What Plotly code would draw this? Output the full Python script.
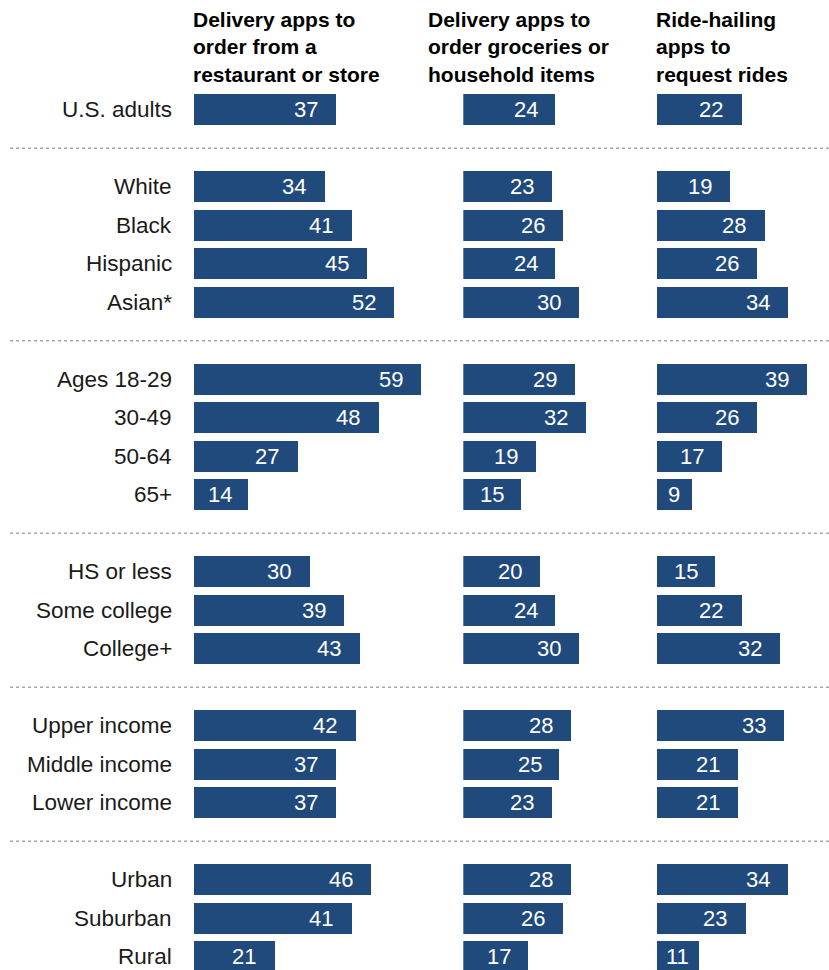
import plotly.graph_objects as go

# Share of U.S. adults who have used each type of app
categories = ["U.S. adults",
              "White", "Black", "Hispanic", "Asian*",
              "Ages 18-29", "30-49", "50-64", "65+",
              "HS or less", "Some college", "College+",
              "Upper income", "Middle income", "Lower income",
              "Urban", "Suburban", "Rural"]
group_sizes = [1, 4, 4, 3, 3, 3]

restaurant = [37, 34, 41, 45, 52, 59, 48, 27, 14, 30, 39, 43, 42, 37, 37, 46, 41, 21]
groceries = [24, 23, 26, 24, 30, 29, 32, 19, 15, 20, 24, 30, 28, 25, 23, 28, 26, 17]
rides = [22, 19, 28, 26, 34, 39, 26, 17, 9, 15, 22, 32, 33, 21, 21, 34, 23, 11]

headers = ["Delivery apps to<br>order from a<br>restaurant or store",
           "Delivery apps to<br>order groceries or<br>household items",
           "Ride-hailing<br>apps to<br>request rides"]

W, H = 829, 970
BAR = "#214a7c"
PX_PER_UNIT = 3.85
FONT = "Liberation Sans, Arial, sans-serif"

# row slots: one empty slot between groups holds the dotted separator
slots, seps = [], []
s = 0
for gi, n in enumerate(group_sizes):
    if gi > 0:
        seps.append(s)
        s += 1
    for _ in range(n):
        slots.append(s)
        s += 1

# pixel geometry of slots
SLOT0_PX, SLOT_PX = 109.7, 38.5
y_top = -SLOT0_PX / SLOT_PX
y_bot = (H - SLOT0_PX) / SLOT_PX

col_left = [193.5, 463.3, 656.7]
col_right = [450.0, 655.0, 829.0]
header_left = [193.5, 429.3, 656.7]
series = [restaurant, groceries, rides]

fig = go.Figure()
layout_axes = {}
annotations = []
for i, (vals, l, r) in enumerate(zip(series, col_left, col_right)):
    xname = "x" if i == 0 else f"x{i+1}"
    axkey = "xaxis" if i == 0 else f"xaxis{i+1}"
    fig.add_trace(go.Bar(
        x=vals, y=slots, orientation="h", xaxis=xname, yaxis="y",
        marker=dict(color=BAR, line=dict(width=0)), width=31 / SLOT_PX,
        hoverinfo="skip", showlegend=False))
    layout_axes[axkey] = dict(domain=[l / W, r / W], range=[0, (r - l) / PX_PER_UNIT],
                              visible=False, anchor="y", fixedrange=True)
    for v, sl in zip(vals, slots):
        annotations.append(dict(
            x=max(v - 7.8, v / 2), y=sl, xref=xname, yref="y", text=str(v),
            showarrow=False, xanchor="center", yanchor="middle",
            font=dict(family=FONT, size=22, color="white")))
    annotations.append(dict(
        x=(header_left[i] - 3) / W, y=1 - 6 / H, xref="paper", yref="paper",
        text=f"<b>{headers[i]}</b>", showarrow=False, xanchor="left", yanchor="top",
        align="left", font=dict(family=FONT, size=21, color="#000000")))

for cat, sl in zip(categories, slots):
    annotations.append(dict(
        x=174 / W, y=sl, xref="paper", yref="y", text=cat, showarrow=False,
        xanchor="right", yanchor="middle",
        font=dict(family=FONT, size=22.5, color="#1a1a1a")))

shapes = [dict(type="line", xref="paper", yref="y", x0=10 / W, x1=1, y0=sp, y1=sp,
               line=dict(color="#a8a8a8", width=1.5, dash="dot")) for sp in seps]

fig.update_layout(
    width=W, height=H, margin=dict(l=0, r=0, t=0, b=0),
    paper_bgcolor="white", plot_bgcolor="white",
    yaxis=dict(domain=[0, 1], range=[y_bot, y_top], visible=False, fixedrange=True),
    annotations=annotations, shapes=shapes, bargap=0, **layout_axes)

fig.write_html("out.html", config={"displayModeBar": False})
